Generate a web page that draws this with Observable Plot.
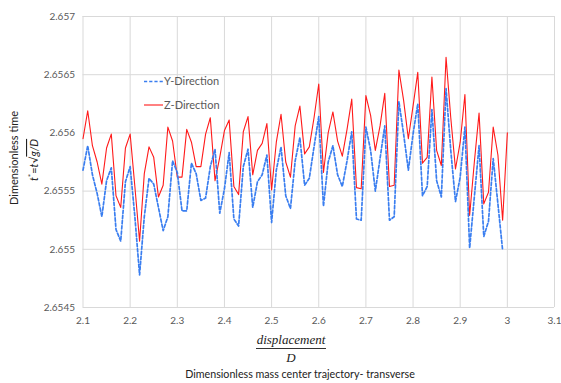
<!DOCTYPE html>
<html>
<head>
<meta charset="utf-8">
<script src="https://cdn.jsdelivr.net/npm/d3@7"></script>
<script src="https://cdn.jsdelivr.net/npm/@observablehq/plot@0.6"></script>
<style>
  body { margin: 0; background: #fff; }
  #wrap { position: relative; width: 561px; height: 383px; background: #fff; font-family: Lato, sans-serif; }
  #frac { position: absolute; left: 0; width: 582px; top: 333px; text-align: center; }
  #frac .f { display: inline-block; font-family: "Liberation Serif", serif; font-style: italic; font-size: 13px; color: #222; line-height: 13px; }
  #frac .num { border-bottom: 1px solid #333; padding: 0 1px 2px 1px; }
  #frac .den { padding-top: 2px; }
  #cap { position: absolute; left: 0; width: 600px; top: 367px; text-align: center; font-size: 10.7px; color: #222; }
</style>
</head>
<body>
<div id="wrap"></div>
<script>
const xValues = [2.10,2.11,2.12,2.13,2.14,2.15,2.16,2.17,2.18,2.19,
  2.20,2.21,2.22,2.23,2.24,2.25,2.26,2.27,2.28,2.29,
  2.30,2.31,2.32,2.33,2.34,2.35,2.36,2.37,2.38,2.39,
  2.40,2.41,2.42,2.43,2.44,2.45,2.46,2.47,2.48,2.49,
  2.50,2.51,2.52,2.53,2.54,2.55,2.56,2.57,2.58,2.59,
  2.60,2.61,2.62,2.63,2.64,2.65,2.66,2.67,2.68,2.69,
  2.70,2.71,2.72,2.73,2.74,2.75,2.76,2.77,2.78,2.79,
  2.80,2.81,2.82,2.83,2.84,2.85,2.86,2.87,2.88,2.89,
  2.90,2.91,2.92,2.93,2.94,2.95,2.96,2.97,2.98,2.99,3.00];

const yDirection = [2.65568,2.65589,2.65564,2.65548,2.65528,2.65559,2.65570,2.65517,2.65507,2.65558,
  2.65571,2.65528,2.65478,2.65528,2.65561,2.65556,2.65536,2.65516,2.65528,2.65576,
  2.65566,2.65533,2.65533,2.65574,2.65565,2.65542,2.65544,2.65571,2.65586,2.65531,
  2.65552,2.65583,2.65526,2.65520,2.65571,2.65586,2.65536,2.65558,2.65564,2.65581,
  2.65523,2.65568,2.65588,2.65546,2.65535,2.65576,2.65596,2.65555,2.65561,2.65588,
  2.65614,2.65537,2.65575,2.65589,2.65564,2.65554,2.65576,2.65601,2.65526,2.65525,
  2.65605,2.65585,2.65550,2.65578,2.65606,2.65525,2.65528,2.65627,2.65599,2.65568,
  2.65599,2.65625,2.65546,2.65554,2.65620,2.65559,2.65545,2.65638,2.65585,2.65541,
  2.65562,2.65605,2.65501,2.65545,2.65589,2.65511,2.65524,2.65578,2.65539,2.65499];

const zDirection = [2.65595,2.65619,2.65589,2.65575,2.65556,2.65587,2.65599,2.65546,2.65536,2.65587,
  2.65599,2.65554,2.65507,2.65565,2.65588,2.65579,2.65545,2.65555,2.65605,2.65593,
  2.65562,2.65562,2.65603,2.65592,2.65571,2.65571,2.65599,2.65613,2.65559,2.65579,
  2.65602,2.65611,2.65554,2.65547,2.65601,2.65614,2.65564,2.65585,2.65591,2.65608,
  2.65551,2.65592,2.65616,2.65575,2.65562,2.65606,2.65623,2.65582,2.65588,2.65613,
  2.65642,2.65566,2.65600,2.65618,2.65593,2.65580,2.65603,2.65629,2.65553,2.65552,
  2.65632,2.65615,2.65585,2.65606,2.65634,2.65554,2.65555,2.65654,2.65628,2.65595,
  2.65623,2.65652,2.65574,2.65579,2.65648,2.65585,2.65572,2.65665,2.65613,2.65569,
  2.65592,2.65633,2.65529,2.65575,2.65617,2.65539,2.65549,2.65605,2.65581,2.65525,2.65600];

const xTicks = [2.1,2.2,2.3,2.4,2.5,2.6,2.7,2.8,2.9,3.0,3.1];
const yTicks = [2.6545,2.655,2.6555,2.656,2.6565,2.657];
const seriesNames = ["Y-Direction","Z-Direction"];

const yData = yDirection.map((v,i) => ({x: xValues[i], v}));
const zData = zDirection.map((v,i) => ({x: xValues[i], v}));
const fmt = d => String(+d.toFixed(4));
const blue = "#3a7ef0", red = "#ff1a1a", dash = "3.2,2";

const chart = Plot.plot({
  width: 561, height: 330,
  marginLeft: 82.5, marginRight: 7, marginTop: 16, marginBottom: 23,
  style: {fontFamily: "Lato, sans-serif", fontSize: "10px", color: "#595959", background: "white"},
  x: {domain: [2.1, 3.1]},
  y: {domain: [2.6545, 2.657]},
  marks: [
    Plot.gridX(xTicks, {stroke: "#d9d9d9", strokeOpacity: 1}),
    Plot.gridY(yTicks, {stroke: "#d9d9d9", strokeOpacity: 1}),
    Plot.axisX(xTicks, {tickSize: 0, tickPadding: 9, tickFormat: fmt, label: null}),
    Plot.axisY(yTicks, {tickSize: 0, tickPadding: 8, tickFormat: fmt, label: null}),
    Plot.line(zData, {x: "x", y: "v", stroke: red, strokeWidth: 1.1}),
    Plot.line(yData, {x: "x", y: "v", stroke: blue, strokeWidth: 1.7, strokeDasharray: dash})
  ]
});

const s = d3.select(chart);
// legend
const lg = s.append("g").attr("font-family", "Lato, sans-serif").attr("font-size", "11px")
  .attr("fill", "#595959").attr("text-anchor", "start");
const leg = [
  {name: seriesNames[0], color: blue, dash: dash, w: 1.7, y: 81.5},
  {name: seriesNames[1], color: red, dash: null, w: 1.1, y: 105}
];
leg.forEach(d => {
  lg.append("line").attr("x1", 144).attr("x2", 163).attr("y1", d.y).attr("y2", d.y)
    .attr("stroke", d.color).attr("stroke-width", d.w).attr("stroke-dasharray", d.dash);
  lg.append("text").attr("x", 164).attr("y", d.y).attr("dy", "0.35em").text(d.name);
});
// y-axis title
const yt = s.append("g").attr("font-family", "Lato, sans-serif").attr("fill", "#222");
yt.append("text").attr("transform", "translate(18,158) rotate(-90)").attr("text-anchor", "middle")
  .attr("font-size", "11px").text("Dimensionless time");
const t2 = yt.append("text").attr("transform", "translate(38,160) rotate(-90)").attr("text-anchor", "middle")
  .attr("font-size", "11px");
t2.append("tspan").attr("font-style", "italic").text("t");
t2.append("tspan").attr("font-size", "8px").attr("dy", "-4").text("*");
t2.append("tspan").attr("dy", "4").text("=");
t2.append("tspan").attr("font-style", "italic").text("t");
t2.append("tspan").text("\u221A");
t2.append("tspan").attr("font-style", "italic").attr("text-decoration", "overline").text("g/D");

const wrap = document.getElementById("wrap");
wrap.appendChild(chart);
const frac = document.createElement("div");
frac.id = "frac";
frac.innerHTML = '<div class="f"><div class="num">displacement</div><div class="den">D</div></div>';
wrap.appendChild(frac);
const cap = document.createElement("div");
cap.id = "cap";
cap.textContent = "Dimensionless mass center trajectory- transverse";
wrap.appendChild(cap);
</script>
</body>
</html>
